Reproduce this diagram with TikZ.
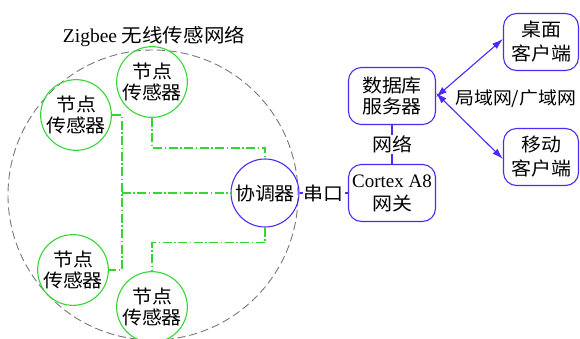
\documentclass[tikz,border=0pt]{standalone}
\usepackage{fontspec}
\setmainfont{Liberation Serif}
\newfontfamily\cjk[FakeStretch=1.08]{Noto Sans CJK SC}
\usetikzlibrary{arrows.meta}
\definecolor{sgreen}{RGB}{50,215,50}
\definecolor{sblue}{RGB}{80,40,250}
\definecolor{sgray}{RGB}{120,120,120}
\tikzset{
  txt/.style={font=\fontsize{18.5}{21}\selectfont\cjk, align=center, text=black},
  sensor/.style={txt, circle, draw=sgreen, line width=1.1pt, minimum size=64pt, inner sep=0pt},
  coordnode/.style={txt, circle, draw=sblue, line width=1.1pt, minimum size=68pt, inner sep=0pt},
  boxnode/.style={txt, draw=sblue, line width=1.1pt, rounded corners=13pt, minimum width=87pt, minimum height=57pt, inner sep=0pt},
  clientnode/.style={boxnode, minimum width=75pt, font=\fontsize{18.5}{24}\selectfont\cjk},
  link/.style={draw=sgreen, line width=1.2pt, dash pattern=on 9pt off 2.5pt on 1.5pt off 2.5pt},
  bline/.style={draw=sblue, line width=1.1pt},
  barrow/.style={bline, {Latex[length=11pt,width=7pt]}-{Latex[length=11pt,width=7pt]}},
  lbl/.style={txt, fill=white, inner sep=1pt}
}
\begin{document}
\begin{tikzpicture}[x=1pt,y=-1pt]
\useasboundingbox (0,0) rectangle (580,338);
% zigbee region
\node[circle, draw=sgray, line width=0.9pt, dash pattern=on 8pt off 4pt, minimum size=290pt, inner sep=0pt] (zone) at (153,195) {};
\node[text=black, font=\fontsize{19.5}{21}\selectfont] (title) at (154,36) {Zigbee {\cjk\fontsize{19}{21}\selectfont 无线传感网络}};
% sensors
\node[sensor] (n1) at (152,82) {节点\\传感器};
\node[sensor] (n2) at (76,115) {节点\\传感器};
\node[sensor] (n3) at (73,270) {节点\\传感器};
\node[sensor] (n4) at (152,307) {节点\\传感器};
\node[coordnode] (co) at (265,193) {协调器};
% right part
\node[boxnode] (db) at (392,96) {数据库\\服务器};
\node[boxnode, font=\fontsize{19}{23}\selectfont] (gw) at (392,193) {Cortex A8\\{\cjk\fontsize{18.5}{23}\selectfont 网关}};
\node[clientnode] (dc) at (541,42) {桌面\\客户端};
\node[clientnode] (mc) at (541,157) {移动\\客户端};
% green links
\draw[link] (n2.east) -- ++(10,0) coordinate (j1) |- (n3.east);
\coordinate (j2) at (j1 |- co.west);
\draw[link] (j2) -- (co.west);
\draw[link] (n1.south) -- ++(0,30) -| (co.north);
\draw[link] (co.south) -- ++(0,15) -| (n4.north);
% blue links
\draw[bline] (co.east) -- node[lbl] {串口} (gw.west);
\draw[bline] (db.south) -- node[lbl] {网络} (gw.north);
\draw[barrow] ([yshift=-1pt]db.east) -- ([yshift=3pt]dc.west);
\draw[barrow] ([yshift=3pt]db.east) -- ([yshift=-2pt]mc.west);
\node[txt, font=\fontsize{17.5}{21}\selectfont\cjk, anchor=west, inner sep=0pt] (wan) at (455,99) {局域网/广域网};
\end{tikzpicture}
\end{document}
